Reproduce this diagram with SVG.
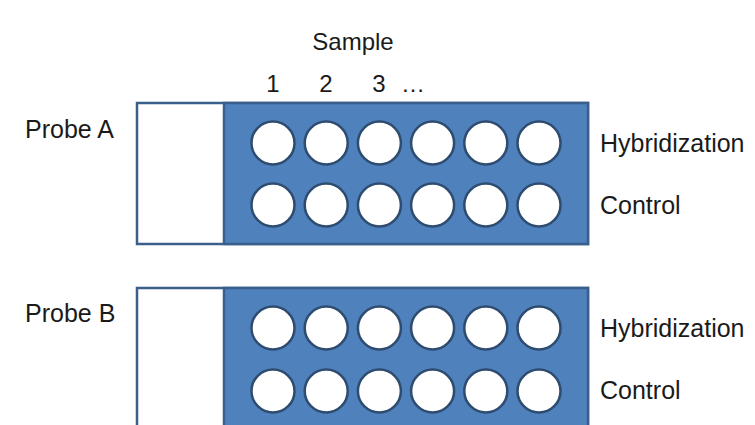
<svg xmlns="http://www.w3.org/2000/svg" width="755" height="425" viewBox="0 0 755 425">
<style>
.t{font-family:"Liberation Sans",Arial,sans-serif;font-size:24px;fill:#1a1a1a}
.outer{fill:#ffffff;stroke:#3b5f8c;stroke-width:2.5}
.blue{fill:#4f81bd;stroke:#3b5f8c;stroke-width:2.5}
.well{fill:#ffffff;stroke:#2e4c70;stroke-width:2.5}
</style>
<defs>
<g id="row">
<circle class="well" cx="273" cy="0" r="21.5"/>
<circle class="well" cx="326.2" cy="0" r="21.5"/>
<circle class="well" cx="379.4" cy="0" r="21.5"/>
<circle class="well" cx="432.6" cy="0" r="21.5"/>
<circle class="well" cx="485.8" cy="0" r="21.5"/>
<circle class="well" cx="539" cy="0" r="21.5"/>
</g>
</defs>
<rect width="755" height="425" fill="#ffffff"/>
<g id="header">
<text class="t" x="353" y="50" text-anchor="middle">Sample</text>
<text class="t" x="273" y="92" text-anchor="middle">1</text>
<text class="t" x="326" y="92" text-anchor="middle">2</text>
<text class="t" x="379" y="92" text-anchor="middle">3</text>
<text class="t" x="413" y="92" text-anchor="middle">…</text>
</g>
<g id="probeA">
<text class="t" x="25" y="138" style="font-size:25px">Probe A</text>
<rect class="outer" x="137" y="103" width="451" height="141"/>
<rect class="blue" x="224" y="103" width="364" height="141"/>
<use href="#row" y="143"/>
<use href="#row" y="205"/>
<text class="t" x="600" y="152" style="font-size:25px">Hybridization</text>
<text class="t" x="600" y="214" style="font-size:25px">Control</text>
</g>
<g id="probeB">
<text class="t" x="25" y="322" style="font-size:25px">Probe B</text>
<rect class="outer" x="137" y="288" width="451" height="141"/>
<rect class="blue" x="224" y="288" width="364" height="141"/>
<use href="#row" y="328"/>
<use href="#row" y="391"/>
<text class="t" x="600" y="337" style="font-size:25px">Hybridization</text>
<text class="t" x="600" y="399" style="font-size:25px">Control</text>
</g>
<g id="connectors"/>
</svg>
